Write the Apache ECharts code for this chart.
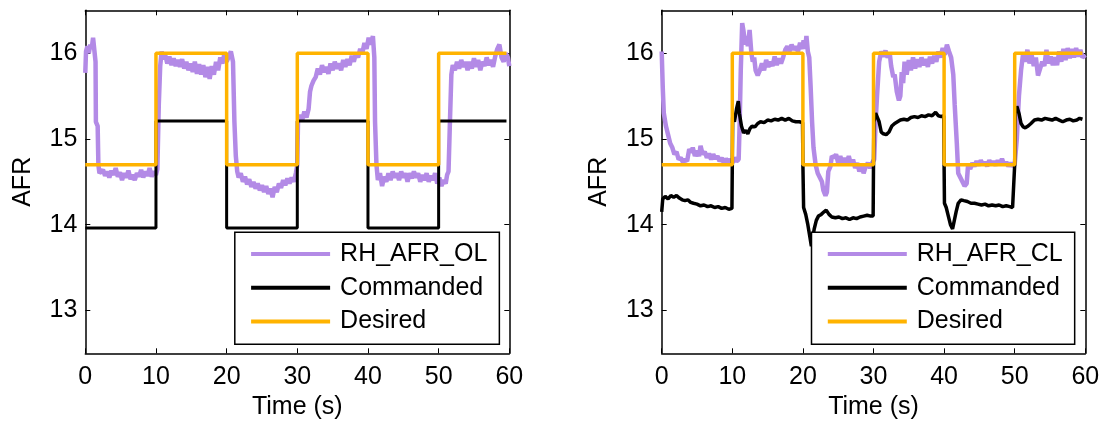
<!DOCTYPE html>
<html>
<head>
<meta charset="utf-8">
<script src="https://cdn.jsdelivr.net/npm/echarts@6/dist/echarts.min.js"></script>
<style>
html,body{margin:0;padding:0;background:#fff;}
#c{width:1106px;height:426px;}
</style>
</head>
<body>
<div id="c"></div>
<script>
// ---------- DATA ----------
const xTicks = [0, 10, 20, 30, 40, 50, 60];
const yTicks = [13, 14, 15, 16];

const stepTimes = [0, 10, 20, 30, 40, 50, 59.6];
const desiredAfr = [14.7, 16, 14.7, 16, 14.7, 16, 16];
const commandedOL = [13.96, 15.21, 13.96, 15.21, 13.96, 15.21, 15.21];

const rhAfrOL = [
[0,15.77],[0.1,16.02],[0.3,16.08],[0.5,16.0],[0.7,16.1],[0.9,16.05],[1.1,16.18],[1.3,16.02],[1.45,15.9],[1.5,15.2],[1.75,15.15],[1.85,14.7],[2.0,14.6],
[2.2,14.58],[2.5,14.64],[2.8,14.57],[3.1,14.62],[3.4,14.55],[3.7,14.63],[4.0,14.58],[4.3,14.66],[4.6,14.56],[4.9,14.61],[5.2,14.52],[5.5,14.6],[5.8,14.55],
[6.1,14.63],[6.4,14.53],[6.7,14.58],[7.0,14.52],[7.3,14.6],[7.6,14.56],[7.9,14.64],[8.2,14.55],[8.5,14.62],[8.8,14.57],[9.1,14.66],[9.4,14.56],[9.7,14.62],
[10.0,14.58],[10.2,14.65],[10.4,15.4],[10.6,15.85],[10.8,16.02],[11.0,15.93],[11.3,15.98],[11.6,15.88],[11.9,15.96],[12.2,15.86],[12.5,15.94],[12.8,15.85],
[13.1,15.92],[13.4,15.84],[13.7,15.93],[14.0,15.82],[14.3,15.9],[14.6,15.8],[14.9,15.88],[15.2,15.78],[15.5,15.9],[15.8,15.76],[16.1,15.87],[16.4,15.75],
[16.7,15.86],[17.0,15.72],[17.3,15.84],[17.6,15.7],[17.9,15.85],[18.2,15.75],[18.5,15.9],[18.8,15.8],[19.1,15.95],[19.4,15.88],[19.7,16.0],[20.0,15.9],
[20.3,15.96],[20.6,16.02],[20.9,15.9],[21.1,15.2],[21.3,14.8],[21.5,14.62],[21.7,14.55],[22.0,14.6],[22.3,14.5],[22.6,14.56],[22.9,14.47],[23.2,14.53],
[23.5,14.44],[23.8,14.5],[24.1,14.42],[24.4,14.48],[24.7,14.4],[25.0,14.46],[25.3,14.38],[25.6,14.45],[25.9,14.36],[26.2,14.42],[26.5,14.32],[26.8,14.44],
[27.1,14.38],[27.4,14.48],[27.7,14.43],[28.0,14.52],[28.3,14.46],[28.6,14.54],[28.9,14.48],[29.2,14.55],[29.5,14.5],[29.8,14.6],[30.0,14.7],[30.1,15.2],
[30.4,15.28],[30.7,15.22],[31.0,15.32],[31.3,15.25],[31.6,15.35],[31.8,15.55],[32.0,15.62],[32.3,15.68],[32.6,15.72],[32.9,15.82],[33.2,15.75],[33.5,15.86],
[33.8,15.78],[34.1,15.84],[34.4,15.76],[34.7,15.88],[35.0,15.8],[35.3,15.9],[35.6,15.82],[35.9,15.88],[36.2,15.8],[36.5,15.92],[36.8,15.84],[37.1,15.93],
[37.4,15.86],[37.7,15.97],[38.0,15.9],[38.3,16.0],[38.6,15.95],[38.9,16.05],[39.2,16.0],[39.5,16.12],[39.8,16.05],[40.1,16.18],[40.4,16.1],[40.7,16.2],
[40.9,15.95],[41.0,15.2],[41.2,14.7],[41.4,14.52],[41.7,14.6],[42.0,14.45],[42.3,14.56],[42.6,14.5],[42.9,14.6],[43.2,14.52],[43.5,14.62],[43.8,14.55],
[44.1,14.6],[44.4,14.52],[44.7,14.62],[45.0,14.55],[45.3,14.6],[45.6,14.5],[45.9,14.6],[46.2,14.54],[46.5,14.62],[46.8,14.55],[47.1,14.6],[47.4,14.5],
[47.7,14.58],[48.0,14.52],[48.3,14.6],[48.6,14.5],[48.9,14.57],[49.2,14.52],[49.5,14.6],[49.8,14.48],[50.1,14.55],[50.4,14.45],[50.7,14.52],[51.0,14.48],
[51.2,14.58],[51.4,14.62],[51.6,15.2],[51.8,15.75],[52.0,15.86],[52.3,15.8],[52.6,15.9],[52.9,15.82],[53.2,15.92],[53.5,15.84],[53.8,15.9],[54.1,15.8],
[54.4,15.9],[54.7,15.82],[55.0,15.94],[55.3,15.84],[55.6,15.92],[55.9,15.8],[56.2,15.9],[56.5,15.85],[56.8,15.95],[57.1,15.86],[57.4,15.92],[57.7,15.84],
[58.0,15.96],[58.3,16.05],[58.6,16.1],[58.9,15.95],[59.2,15.9],[59.5,16.0],[59.8,15.95],[60.0,15.85]
];

const rhAfrCL = [
[0,16.02],[0.15,15.6],[0.3,15.3],[0.6,15.15],[0.9,15.05],[1.2,14.95],[1.5,14.9],[1.8,14.82],[2.1,14.85],[2.4,14.76],[2.7,14.78],[3.0,14.73],[3.3,14.76],
[3.6,14.74],[3.9,14.88],[4.2,14.84],[4.4,14.9],[4.7,14.8],[5.0,14.86],[5.3,14.8],[5.5,14.92],[5.8,14.82],[6.1,14.85],[6.4,14.78],[6.7,14.83],[7.0,14.76],
[7.3,14.82],[7.6,14.77],[7.9,14.8],[8.2,14.74],[8.5,14.78],[8.8,14.72],[9.1,14.77],[9.4,14.73],[9.7,14.76],[10.0,14.72],[10.3,14.78],[10.6,14.74],[10.9,14.76],
[11.05,15.2],[11.2,15.8],[11.4,16.35],[11.6,16.25],[11.8,16.1],[12.0,16.2],[12.2,16.08],[12.45,16.27],[12.7,16.0],[12.9,15.9],[13.1,15.95],[13.3,15.8],
[13.6,15.74],[13.9,15.8],[14.2,15.88],[14.5,15.8],[14.8,15.92],[15.1,15.84],[15.4,15.9],[15.7,15.85],[16.0,15.96],[16.3,15.86],[16.6,15.94],[16.9,15.88],
[17.2,15.95],[17.5,16.04],[17.8,16.08],[18.1,16.02],[18.4,16.1],[18.7,16.04],[19.0,16.08],[19.3,16.02],[19.6,16.12],[19.9,16.05],[20.1,16.15],[20.3,16.05],
[20.5,16.2],[20.7,16.02],[20.9,15.95],[21.1,15.6],[21.3,15.2],[21.5,14.9],[21.8,14.7],[22.1,14.6],[22.4,14.55],[22.7,14.5],[22.9,14.4],[23.2,14.34],
[23.4,14.38],[23.6,14.62],[23.9,14.68],[24.1,14.8],[24.4,14.78],[24.7,14.82],[25.0,14.72],[25.3,14.8],[25.6,14.7],[25.9,14.78],[26.2,14.72],[26.5,14.8],
[26.8,14.7],[27.1,14.76],[27.4,14.66],[27.7,14.72],[28.0,14.62],[28.3,14.7],[28.6,14.6],[28.9,14.68],[29.2,14.72],[29.5,14.66],[29.8,14.72],[30.1,14.76],
[30.3,15.2],[30.5,15.5],[30.8,15.9],[31.1,16.02],[31.4,15.96],[31.7,16.03],[32.0,15.95],[32.3,16.0],[32.5,15.85],[32.8,15.72],[33.0,15.75],[33.3,15.55],
[33.6,15.45],[33.8,15.5],[34.0,15.78],[34.2,15.65],[34.4,15.9],[34.7,15.75],[35.0,15.92],[35.3,15.8],[35.6,15.95],[35.9,15.82],[36.2,15.93],[36.5,15.84],
[36.8,15.95],[37.1,15.86],[37.4,15.93],[37.7,15.84],[38.0,15.96],[38.3,15.88],[38.6,15.97],[38.9,15.9],[39.2,16.02],[39.5,15.95],[39.8,16.06],[40.1,15.98],
[40.4,16.1],[40.7,16.02],[41.0,15.95],[41.3,15.75],[41.5,15.4],[41.8,14.95],[42.0,14.6],[42.3,14.55],[42.6,14.5],[42.9,14.45],[43.2,14.48],[43.4,14.7],
[43.7,14.65],[44.0,14.72],[44.3,14.68],[44.6,14.74],[44.9,14.69],[45.2,14.75],[45.5,14.7],[45.8,14.73],[46.1,14.68],[46.4,14.75],[46.7,14.7],[47.0,14.74],
[47.3,14.69],[47.6,14.75],[47.9,14.7],[48.2,14.77],[48.5,14.7],[48.8,14.73],[49.1,14.68],[49.4,14.72],[49.7,14.68],[50.0,14.7],[50.3,15.0],[50.6,15.5],
[50.9,15.8],[51.2,16.0],[51.5,15.9],[51.8,16.04],[52.1,15.88],[52.4,15.98],[52.7,15.85],[53.0,15.95],[53.3,15.74],[53.6,15.82],[53.9,15.9],[54.2,15.85],
[54.5,16.04],[54.8,15.88],[55.1,15.96],[55.4,15.86],[55.7,15.95],[56.0,15.86],[56.3,16.02],[56.6,15.9],[56.9,16.05],[57.2,15.92],[57.5,16.06],[57.8,15.94],
[58.1,16.05],[58.4,15.95],[58.7,16.06],[59.0,15.96],[59.3,16.04],[59.6,15.95],[60.0,15.98]
];

const commandedCL = [
[0,14.15],[0.15,14.3],[0.5,14.33],[0.9,14.3],[1.3,14.34],[1.7,14.32],[2.1,14.34],[2.5,14.31],[2.9,14.29],[3.3,14.28],[3.7,14.29],[4.1,14.26],[4.5,14.25],
[5.0,14.24],[5.5,14.22],[6.0,14.23],[6.5,14.21],[7.0,14.22],[7.5,14.2],[8.0,14.21],[8.5,14.19],[9.0,14.2],[9.5,14.18],[9.95,14.19],[10.0,14.7],[10.05,15.25],
[10.3,15.2],[10.6,15.35],[10.85,15.44],[11.0,15.3],[11.3,15.15],[11.6,15.07],[11.9,15.1],[12.2,15.06],[12.5,15.12],[12.8,15.15],[13.2,15.14],[13.6,15.18],
[14.0,15.2],[14.5,15.19],[15.0,15.22],[15.5,15.21],[16.0,15.23],[16.5,15.22],[17.0,15.24],[17.5,15.22],[18.0,15.24],[18.5,15.21],[19.0,15.2],[19.5,15.2],
[19.95,15.19],[20.0,14.7],[20.1,14.2],[20.4,14.12],[20.7,14.0],[21.0,13.85],[21.2,13.75],[21.35,13.82],[21.6,13.95],[21.9,14.05],[22.2,14.1],[22.6,14.12],
[23.0,14.15],[23.3,14.17],[23.7,14.12],[24.1,14.09],[24.6,14.08],[25.1,14.09],[25.6,14.07],[26.1,14.08],[26.6,14.06],[27.1,14.08],[27.6,14.07],[28.1,14.09],
[28.6,14.1],[29.1,14.11],[29.6,14.1],[29.95,14.1],[30.0,14.7],[30.05,15.2],[30.3,15.3],[30.5,15.32],[30.8,15.2],[31.1,15.08],[31.4,15.06],[31.8,15.05],
[32.2,15.08],[32.6,15.15],[33.0,15.18],[33.4,15.2],[33.8,15.22],[34.3,15.23],[34.8,15.22],[35.3,15.25],[35.8,15.26],[36.3,15.25],[36.8,15.27],[37.3,15.26],
[37.8,15.28],[38.3,15.27],[38.8,15.31],[39.2,15.27],[39.6,15.26],[39.95,15.27],[40.0,14.7],[40.05,14.25],[40.3,14.2],[40.6,14.1],[40.9,14.0],[41.2,13.95],
[41.45,13.97],[41.7,14.15],[42.0,14.25],[42.4,14.29],[42.8,14.28],[43.3,14.27],[43.8,14.25],[44.3,14.25],[44.8,14.24],[45.3,14.23],[45.8,14.24],[46.3,14.22],
[46.8,14.23],[47.3,14.22],[47.8,14.23],[48.3,14.21],[48.8,14.22],[49.3,14.21],[49.7,14.2],[49.95,14.21],[50.0,14.7],[50.05,15.3],[50.3,15.38],[50.6,15.3],
[50.9,15.18],[51.2,15.14],[51.5,15.13],[51.9,15.15],[52.3,15.18],[52.8,15.22],[53.3,15.23],[53.8,15.22],[54.3,15.24],[54.8,15.23],[55.3,15.22],[55.8,15.24],
[56.3,15.22],[56.8,15.2],[57.3,15.22],[57.8,15.23],[58.3,15.21],[58.8,15.22],[59.2,15.24],[59.6,15.23]
];

// ---------- CHART ----------
const FONT = "'Liberation Sans', Arial, Helvetica, sans-serif";
const PURPLE = '#B38AE6', BLACK = '#000000', ORANGE = '#FFB300';
const pairs = (xs, ys) => xs.map((x, i) => [x, ys[i]]);

const grids = [
  {left: 85.3, top: 10.3, width: 424, height: 343},
  {left: 661.7, top: 10.3, width: 423.6, height: 343}
];

function xAx(gi, pos) {
  const main = pos === 'bottom';
  return {
    type: 'value', gridIndex: gi, position: pos, min: 0, max: 60, interval: 10,
    name: main ? 'Time (s)' : '', nameLocation: 'middle', nameGap: 41,
    nameTextStyle: {fontFamily: FONT, fontSize: 25, color: '#000'},
    axisLine: {show: true, onZero: false, lineStyle: {color: '#000', width: 1.5}},
    axisTick: {show: true, inside: true, length: 5, lineStyle: {color: '#000', width: 1}},
    axisLabel: {show: main, margin: 11, fontFamily: FONT, fontSize: 25, color: '#000',
      formatter: v => xTicks.indexOf(v) >= 0 ? String(v) : ''},
    splitLine: {show: false}
  };
}
function yAx(gi, pos) {
  const main = pos === 'left';
  return {
    type: 'value', gridIndex: gi, position: pos, min: 12.5, max: 16.5,
    name: main ? 'AFR' : '', nameLocation: 'middle', nameGap: 50, nameRotate: 90,
    nameTextStyle: {fontFamily: FONT, fontSize: 25, color: '#000'},
    axisLine: {show: true, onZero: false, lineStyle: {color: '#000', width: 1.5}},
    axisTick: {show: true, inside: true, length: 5, customValues: yTicks, lineStyle: {color: '#000', width: 1}},
    axisLabel: {show: main, margin: 8, fontFamily: FONT, fontSize: 25, color: '#000', customValues: yTicks},
    splitLine: {show: false}
  };
}

function legend(left, names, padRight) {
  return {
    orient: 'vertical', left: left, top: 232.3,
    data: names.map(n => ({name: n, icon: 'rect'})),
    itemWidth: 79, itemHeight: 4, itemGap: 8.8,
    padding: [9.2, padRight, 10.1, 16.3],
    backgroundColor: '#fff', borderColor: '#000', borderWidth: 1.5, borderRadius: 0,
    textStyle: {fontFamily: FONT, fontSize: 25, lineHeight: 25, color: '#000', padding: [0, 0, 0, 5]},
    selectedMode: false
  };
}

const lineBase = {type: 'line', showSymbol: false, symbol: 'none', smooth: false, animation: false};

const option = {
  backgroundColor: '#fff',
  animation: false,
  grid: grids,
  xAxis: [xAx(0, 'bottom'), xAx(0, 'top'), xAx(1, 'bottom'), xAx(1, 'top')],
  yAxis: [yAx(0, 'left'), yAx(0, 'right'), yAx(1, 'left'), yAx(1, 'right')],
  legend: [
    legend(234.8, ['RH_AFR_OL', 'Commanded', 'Desired'], 12),
    legend(811.5, ['RH_AFR_CL', 'Commanded', 'Desired'], 12)
  ],
  series: [
    Object.assign({}, lineBase, {name: 'RH_AFR_OL', xAxisIndex: 0, yAxisIndex: 0, data: rhAfrOL,
      color: PURPLE, lineStyle: {color: PURPLE, width: 4.5}}),
    Object.assign({}, lineBase, {name: 'Commanded', xAxisIndex: 0, yAxisIndex: 0, step: 'end',
      data: pairs(stepTimes, commandedOL), color: BLACK, lineStyle: {color: BLACK, width: 3}}),
    Object.assign({}, lineBase, {name: 'Desired', xAxisIndex: 0, yAxisIndex: 0, step: 'end',
      data: pairs(stepTimes, desiredAfr), color: ORANGE, lineStyle: {color: ORANGE, width: 3.5}}),
    Object.assign({}, lineBase, {name: 'RH_AFR_CL', xAxisIndex: 2, yAxisIndex: 2, data: rhAfrCL,
      color: PURPLE, lineStyle: {color: PURPLE, width: 4.5}}),
    Object.assign({}, lineBase, {name: 'Commanded', xAxisIndex: 2, yAxisIndex: 2, data: commandedCL,
      color: BLACK, lineStyle: {color: BLACK, width: 3.5}}),
    Object.assign({}, lineBase, {name: 'Desired', xAxisIndex: 2, yAxisIndex: 2, step: 'end',
      data: pairs(stepTimes, desiredAfr), color: ORANGE, lineStyle: {color: ORANGE, width: 3.5}})
  ]
};

const chart = echarts.init(document.getElementById('c'), null, {renderer: 'canvas'});
chart.setOption(option);
</script>
</body>
</html>
